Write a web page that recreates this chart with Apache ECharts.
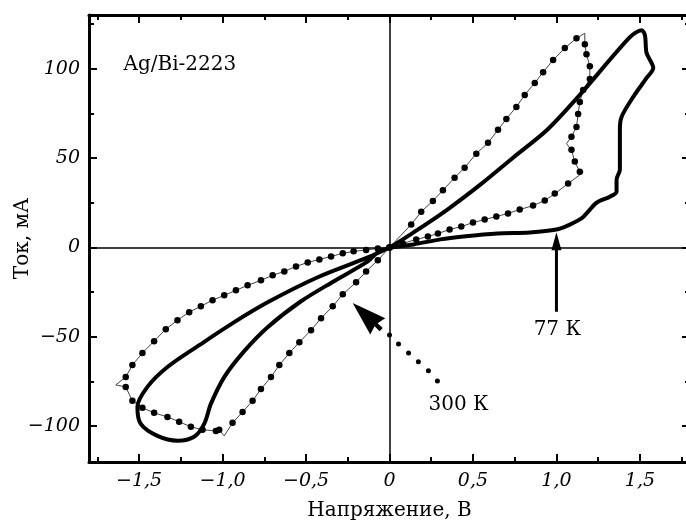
<!DOCTYPE html>
<html>
<head>
<meta charset="utf-8">
<script src="https://cdn.jsdelivr.net/npm/echarts@6/dist/echarts.min.js"></script>
<style>
    html,body{margin:0;padding:0;background:#fff;}
    #main{width:686px;height:524px;}
</style>
</head>
<body>
<div id="main"></div>
<script>
//--------------------数据---------------------------
var xTicks = [-1.5, -1.0, -0.5, 0, 0.5, 1.0, 1.5];
var xMinorTicks = [-1.75, -1.25, -0.75, -0.25, 0.25, 0.75, 1.25, 1.75];
var yTicks = [-100, -50, 0, 50, 100];
var yMinorTicks = [-75, -25, 25, 75, 125];

// 300 K, [V, mA]
var loop300Pos = [
    [0,0],[0.13,12.8],[0.19,20],[0.26,26],[0.32,32],[0.39,39],[0.45,44.6],[0.52,52.4],[0.59,58.5],
    [0.65,65.8],[0.70,71.9],[0.76,78.6],[0.81,85.3],[0.87,92],[0.92,98],[0.98,104.8],[1.05,111.5],[1.12,117],
    [1.17,119.8],
    [1.17,113.7],[1.18,108],[1.20,101.4],[1.20,94.2],[1.16,88],[1.14,81.4],[1.13,74.7],[1.12,67.4],[1.09,61.9],
    [1.06,58],
    [1.09,54.6],[1.11,48],[1.14,42.4],
    [1.16,42],
    [1.07,35.7],[0.99,30.1],[0.93,26.2],[0.86,23.4],[0.78,21.2],[0.71,19],[0.64,17.3],[0.57,15.6],
    [0.50,13.9],[0.43,11.7],[0.36,10],[0.29,7.8],[0.23,6.1],[0.16,4.5],[0.08,2.2],[0,0]
];
var loop300Neg = [
    [-0.07,-0.6],[-0.14,-1.4],[-0.215,-2.2],[-0.28,-3.3],[-0.35,-5],[-0.42,-6.7],[-0.49,-8.4],[-0.56,-10.6],
    [-0.63,-13.4],[-0.70,-15.6],[-0.77,-18.4],[-0.85,-21.2],[-0.92,-24],[-0.99,-26.8],[-1.06,-29.5],[-1.13,-32.9],
    [-1.20,-36.2],[-1.27,-40.7],[-1.34,-45.7],[-1.41,-52.4],[-1.48,-59],[-1.54,-65.8],[-1.58,-72.5],
    [-1.64,-76.9],
    [-1.58,-78],[-1.54,-85.8],[-1.48,-89.7],[-1.41,-92.5],[-1.33,-94.8],[-1.26,-97.5],[-1.19,-100.3],
    [-1.12,-102],[-1.04,-102.6],[-1.02,-102],
    [-0.99,-105.4],
    [-0.94,-98.1],[-0.88,-92],[-0.82,-85.8],[-0.77,-79.2],[-0.71,-72.5],[-0.66,-65.8],[-0.60,-59.1],[-0.54,-53],
    [-0.47,-46.3],[-0.41,-39.6],[-0.34,-32.9],[-0.28,-26.2],[-0.20,-19.5],[-0.14,-13.4],[-0.07,-7.2],[0,0]
];
var corners300 = [[1.17,119.8],[1.06,58],[1.16,42],[-1.64,-76.9],[-0.99,-105.4]];

// 77 K, [V, mA]
var loop77Pos = [
    [0,0],[0.144,1.7],[0.305,4.5],[0.443,6.1],[0.646,7.8],[0.84,8.4],[1.0,10],[1.08,12.8],[1.15,16.2],
    [1.19,20],[1.24,25],[1.32,28.4],[1.36,31.2],[1.36,37.9],[1.38,43.5],[1.38,54.6],[1.38,65.8],[1.39,73],
    [1.46,84.2],[1.54,94.8],[1.58,100.3],[1.54,108.7],[1.53,118.7],[1.51,121.5],[1.44,117.6],[1.14,85.3],
    [0.945,65.8],[0.74,50.2],[0.544,35.1],[0.347,21.2],[0.144,8.4],[0,0]
];
var loop77Neg = [
    [-0.072,-2.8],[-0.13,-7.8],[-0.335,-19],[-0.53,-30.1],[-0.73,-44.6],[-0.87,-58],[-0.99,-72.5],[-1.07,-87.5],
    [-1.11,-98.7],[-1.17,-105.9],[-1.27,-108.1],[-1.39,-105.4],[-1.49,-98.7],[-1.51,-89.2],[-1.45,-78],
    [-1.33,-66.9],[-1.13,-54.1],[-0.93,-41.8],[-0.73,-30.7],[-0.43,-16.7],[-0.13,-5.6],[0,0]
];

// подписи и стрелки
var labelTexts = ['Ag/Bi-2223', '77 К', '300 К'];
var labelPos = [[-1.256, 102], [1.005, -46.3], [0.413, -88]];
var arrow77Line = [[1.0, -36], [1.0, 0]];
var arrow77Head = [[1.0, 3.5]];
var arrow300Dots = [[0,-49],[0.054,-54],[0.114,-59],[0.173,-64],[0.233,-69],[0.287,-74.7]];
var arrow300Head = [[-0.135, -38.5]];
//--------------------数据---------------------------

var serif = 'DejaVu Serif';

function isCorner(p){
    for (var i = 0; i < corners300.length; i++) {
        if (corners300[i][0] === p[0] && corners300[i][1] === p[1]) return true;
    }
    return false;
}
var data300 = loop300Pos.concat(loop300Neg).map(function(p){
    return isCorner(p) ? {value: p, symbol: 'none'} : {value: p};
});
var data77 = loop77Pos.concat(loop77Neg);

function fmtX(v){
    return v === 0 ? '0' : v.toFixed(1).replace('.', ',').replace('-', '\u2212');
}
function fmtY(v){
    return String(v).replace('-', '\u2212');
}

function makeX(pos, ticks, len, showLine, showLabel){
    return {
        type: 'value', position: pos, min: -1.8, max: 1.8,
        axisLine: {show: showLine, onZero: false, lineStyle: {color: '#000', width: 3}},
        axisTick: {inside: true, length: len, customValues: ticks, lineStyle: {color: '#000', width: 2}},
        axisLabel: {show: showLabel, customValues: ticks, formatter: fmtX, margin: 10,
            fontFamily: serif, fontStyle: 'italic', fontSize: 19, color: '#000'},
        splitLine: {show: false},
        name: showLabel ? 'Напряжение, В' : '', nameLocation: 'middle', nameGap: 39, nameMoveOverlap: false,
        nameTextStyle: {fontFamily: serif, fontSize: 20, color: '#000'}
    };
}
function makeY(pos, ticks, len, showLine, showLabel){
    return {
        type: 'value', position: pos, min: -120, max: 130,
        axisLine: {show: showLine, onZero: false, lineStyle: {color: '#000', width: 3}},
        axisTick: {inside: true, length: len, customValues: ticks, lineStyle: {color: '#000', width: 2}},
        axisLabel: {show: showLabel, customValues: ticks, formatter: fmtY, margin: 9,
            fontFamily: serif, fontStyle: 'italic', fontSize: 19, color: '#000'},
        splitLine: {show: false},
        name: showLabel ? 'Ток, мА' : '', nameLocation: 'middle', nameGap: 56, nameMoveOverlap: false,
        nameTextStyle: {fontFamily: serif, fontSize: 20, color: '#000'}
    };
}

var myChart = echarts.init(document.getElementById('main'));
var option = {
    animation: false,
    backgroundColor: '#fff',
    textStyle: {fontFamily: serif, color: '#000'},
    grid: {left: 89, top: 15, width: 601, height: 447, outerBoundsMode: 'none', containLabel: false},
    xAxis: [
        makeX('bottom', xTicks, 8, true, true),
        makeX('bottom', xMinorTicks, 5, false, false),
        makeX('top', xTicks, 8, true, false),
        makeX('top', xMinorTicks, 5, false, false)
    ],
    yAxis: [
        makeY('left', yTicks, 8, true, true),
        makeY('left', yMinorTicks, 5, false, false),
        makeY('right', yTicks, 8, true, false),
        makeY('right', yMinorTicks, 5, false, false)
    ],
    series: [
        {
            name: '300 K', type: 'line', data: data300,
            symbol: 'circle', symbolSize: 6.5, showSymbol: true, showAllSymbol: true,
            lineStyle: {color: '#444', width: 1},
            itemStyle: {color: '#000', borderWidth: 0},
            markLine: {
                silent: true, symbol: ['none', 'none'], label: {show: false},
                lineStyle: {color: '#000', width: 1.5, type: 'solid'},
                data: [{xAxis: 0}, {yAxis: 0}]
            },
            z: 3
        },
        {
            name: '77 K', type: 'line', data: data77, smooth: 0.3,
            symbol: 'none', lineStyle: {color: '#000', width: 4}, z: 4
        },
        {
            type: 'line', data: arrow77Line, symbol: 'none',
            lineStyle: {color: '#000', width: 3}, z: 4
        },
        {
            type: 'scatter', data: arrow77Head, symbol: 'triangle', symbolSize: [10, 18],
            itemStyle: {color: '#000', opacity: 1}, z: 5
        },
        {
            type: 'scatter', data: arrow300Dots, symbol: 'circle', symbolSize: 5,
            itemStyle: {color: '#000', opacity: 1}, z: 4
        },
        {
            // наконечник стрелки 300 K
            type: 'scatter', data: arrow300Head,
            symbol: 'path://M10,0 L20,29 L12,27 L12,33 L8,33 L8,27 L0,29 Z',
            symbolSize: [22, 39], symbolRotate: 47, symbolKeepAspect: false,
            itemStyle: {color: '#000', opacity: 1}, z: 5
        },
        {
            type: 'scatter', symbolSize: 0, z: 6,
            itemStyle: {opacity: 1},
            data: labelPos.map(function(p, i){ return {value: p, name: labelTexts[i]}; }),
            label: {
                show: true, position: 'inside', formatter: '{b}',
                fontFamily: serif, fontSize: 20, color: '#000'
            }
        }
    ]
};
myChart.setOption(option);
</script>
</body>
</html>
